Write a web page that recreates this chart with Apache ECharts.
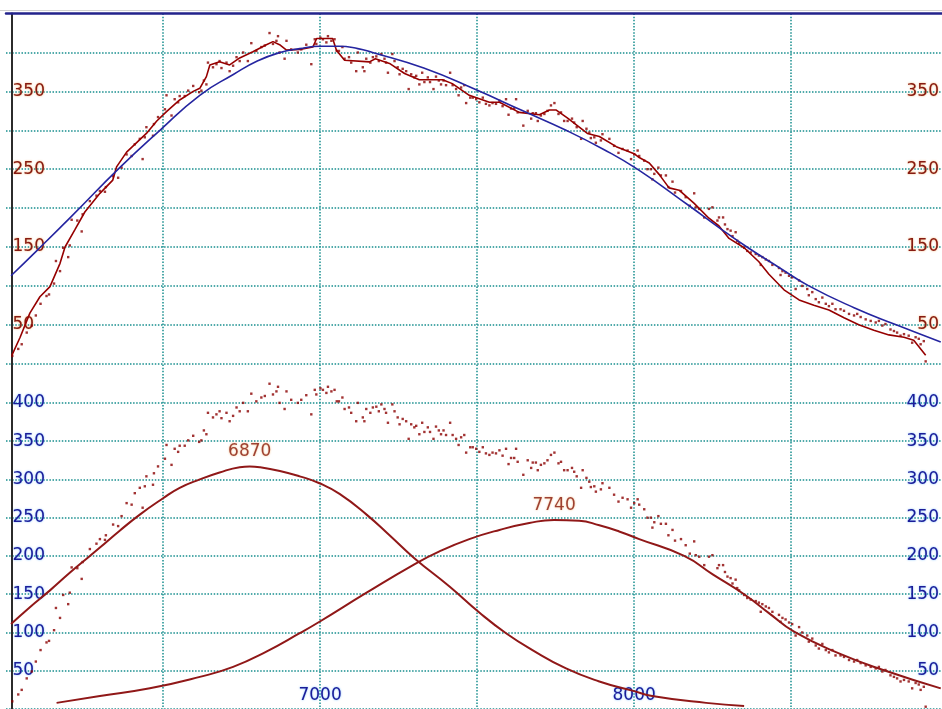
<!DOCTYPE html>
<html><head><meta charset="utf-8">
<script src="https://cdn.jsdelivr.net/npm/echarts@6/dist/echarts.min.js"></script>
<style>html,body{margin:0;padding:0;background:#fff}#c{width:942px;height:709px}</style>
</head><body><div id="c"></div><script>
// ---- data ----
const xMin = 6000, xMax = 8980;
const xLabels = [7000, 8000];
const topYLabels = [50, 150, 250, 350];
const bottomYLabels = [50, 100, 150, 200, 250, 300, 350, 400];

// raw measurement points (dots)
const rawPoints = [[6020,10],[6039,19],[6050,25],[6066,40],[6082,49],[6095,62],[6110,77],[6129,87],[6137,89],[6153,103],[6159,132],[6172,119],[6182,149],[6198,137],[6203,152],[6209,185],[6227,184],[6241,170],[6244,192],[6267,209],[6288,216],[6299,222],[6315,221],[6318,227],[6341,241],[6357,239],[6368,252],[6384,269],[6400,267],[6410,282],[6426,289],[6435,263],[6442,291],[6447,304],[6468,293],[6471,308],[6484,317],[6506,327],[6511,345],[6527,319],[6537,340],[6548,336],[6553,344],[6569,344],[6580,351],[6596,357],[6615,349],[6622,351],[6630,364],[6638,359],[6643,387],[6659,381],[6670,385],[6680,389],[6686,380],[6702,387],[6712,376],[6723,383],[6734,394],[6744,389],[6755,400],[6770,389],[6781,412],[6797,402],[6813,407],[6824,409],[6839,425],[6850,411],[6861,415],[6866,421],[6871,400],[6887,392],[6893,415],[6908,404],[6929,400],[6940,404],[6956,410],[6972,385],[6983,417],[6988,411],[7001,419],[7009,417],[7020,413],[7025,421],[7036,415],[7046,417],[7053,402],[7060,402],[7071,407],[7078,392],[7092,394],[7099,387],[7115,376],[7120,400],[7136,381],[7141,376],[7147,392],[7160,387],[7168,394],[7179,395],[7187,389],[7195,398],[7205,392],[7210,387],[7216,374],[7230,398],[7237,389],[7247,381],[7253,372],[7263,379],[7274,376],[7282,353],[7290,372],[7300,368],[7306,370],[7316,359],[7325,374],[7332,362],[7343,368],[7350,362],[7361,353],[7369,369],[7378,364],[7385,359],[7393,364],[7401,358],[7414,374],[7422,358],[7433,353],[7441,345],[7449,355],[7459,358],[7465,335],[7478,342],[7486,342],[7497,340],[7507,336],[7518,342],[7528,334],[7539,332],[7549,335],[7560,334],[7571,338],[7581,331],[7592,340],[7600,320],[7608,328],[7618,328],[7624,340],[7629,323],[7647,306],[7661,325],[7672,315],[7677,322],[7687,322],[7693,312],[7703,319],[7714,321],[7724,325],[7735,332],[7746,335],[7759,321],[7767,323],[7777,312],[7788,312],[7802,315],[7809,310],[7817,304],[7831,289],[7836,312],[7848,302],[7857,297],[7862,290],[7873,291],[7878,284],[7894,287],[7899,295],[7921,289],[7936,280],[7950,271],[7963,276],[7979,274],[7990,263],[8000,269],[8011,274],[8016,267],[8032,261],[8042,250],[8053,250],[8058,237],[8064,244],[8077,252],[8085,242],[8101,242],[8109,227],[8122,234],[8130,220],[8149,222],[8164,214],[8177,203],[8191,219],[8196,201],[8207,199],[8223,188],[8238,199],[8249,201],[8265,184],[8270,188],[8283,188],[8289,179],[8297,173],[8307,171],[8313,164],[8323,169],[8328,158],[8334,155],[8350,149],[8360,145],[8371,143],[8387,141],[8397,139],[8403,127],[8408,137],[8419,134],[8429,132],[8440,127],[8461,123],[8466,114],[8472,119],[8482,117],[8493,113],[8503,111],[8514,96],[8525,107],[8535,100],[8551,96],[8556,88],[8567,92],[8578,83],[8588,79],[8599,85],[8610,77],[8620,74],[8631,77],[8641,70],[8657,70],[8668,68],[8684,64],[8700,62],[8710,64],[8721,60],[8737,57],[8753,55],[8769,53],[8779,55],[8790,49],[8800,51],[8816,44],[8827,42],[8837,40],[8848,36],[8859,38],[8874,36],[8885,27],[8896,34],[8906,32],[8912,25],[8922,29],[8928,3]];

// running data line in the upper panel
const dataLine = [[6019,11],[6045,34],[6076,65],[6108,86],[6140,99],[6172,129],[6188,150],[6219,172],[6251,195],[6299,219],[6340,236],[6352,253],[6384,272],[6447,296],[6480,312],[6511,324],[6553,339],[6596,350],[6617,354],[6638,369],[6649,384],[6680,388],[6712,384],[6744,393],[6786,401],[6829,410],[6850,414],[6871,410],[6893,403],[6935,404],[6977,407],[6989,418],[7040,418],[7052,403],[7078,390],[7157,388],[7176,392],[7221,386],[7269,373],[7316,365],[7390,365],[7421,360],[7475,345],[7539,336],[7571,336],[7634,323],[7698,320],[7730,326],[7752,326],[7787,316],[7851,296],[7889,292],[7943,279],[8000,270],[8016,265],[8048,258],[8080,243],[8111,226],[8143,223],[8191,206],[8238,187],[8270,177],[8302,161],[8350,149],[8397,131],[8429,115],[8477,95],[8525,82],[8572,75],[8620,69],[8668,59],[8715,50],[8763,43],[8811,37],[8859,34],[8890,30],[8928,11]];

// fitted curve (upper panel)
const fitLine = [[6016,113],[6100,146],[6210,190],[6362,252],[6490,300],[6617,345],[6725,372],[6800,389],[6872,400],[6935,405],[7000,408],[7060,408],[7120,405],[7167,400],[7330,380],[7497,352],[7640,326],[7783,300],[7900,276],[8010,250],[8175,203],[8270,175],[8359,150],[8460,124],[8556,100],[8700,72],[8834,50],[8976,28]];

// component curves (lower panel)
const gauss1 = [[6016,111],[6076,133],[6140,155],[6203,178],[6267,200],[6299,211],[6362,233],[6426,254],[6499,275],[6553,289],[6617,300],[6680,309],[6744,316],[6776,317],[6808,316],[6872,311],[6935,304],[6998,295],[7062,281],[7148,254],[7221,227],[7300,197],[7412,160],[7507,126],[7592,99],[7676,77],[7783,53],[7889,36],[7994,24],[8057,17],[8229,8],[8350,4]];
const gauss2 = [[6161,8],[6299,17],[6458,27],[6617,42],[6723,55],[6829,75],[6935,99],[6998,114],[7148,152],[7300,189],[7380,206],[7475,222],[7571,234],[7666,243],[7745,247],[7825,246],[7889,240],[7952,232],[8016,222],[8159,200],[8250,176],[8350,150],[8430,125],[8509,101],[8650,73],[8800,50],[8976,27]];
const peakLabels = [[6776, 317, '6870'], [7745, 247, '7740']];

// ---- chart ----
const FONT = 'DejaVu Sans';
const redText = {color:'#861a12', fontFamily:FONT, fontSize:17, textShadowColor:'rgba(240,140,40,0.7)', textShadowBlur:2};
const blueText = {color:'#1c1c98', fontFamily:FONT, fontSize:17, textShadowColor:'rgba(60,160,255,0.7)', textShadowBlur:2};
const gridDots = {color:'#178e8e', width:1.5, type:[1.5,1.6]};
const chart = echarts.init(document.getElementById('c'));
const yBase = {type:'value', min:0, max:450, interval:50, axisTick:{show:false}};
chart.setOption({
  animation:false,
  backgroundColor:'#fff',
  graphic:[{type:'line', shape:{x1:0,y1:10.5,x2:942,y2:10.5}, style:{stroke:'#cfcfcf', lineWidth:1}, silent:true}],
  grid:[{left:6, top:13.6, width:937.2, height:350.1},{left:6, top:364.6, width:937.2, height:350}],
  xAxis:[
    {gridIndex:0, type:'value', min:xMin, max:xMax, interval:500, position:'top',
     axisLine:{show:true, onZero:false, lineStyle:{color:'#23238c', width:2.5}},
     axisTick:{show:false}, axisLabel:{show:false},
     splitLine:{show:true, showMinLine:false, showMaxLine:false, lineStyle:gridDots}},
    {gridIndex:1, type:'value', min:xMin, max:xMax, interval:500, position:'bottom',
     axisLine:{show:false, onZero:false}, axisTick:{show:false},
     axisLabel:Object.assign({inside:true, margin:5, showMinLabel:false, showMaxLabel:false,
       formatter:v => xLabels.includes(v) ? String(v) : ''}, blueText),
     splitLine:{show:true, showMinLine:false, showMaxLine:false, lineStyle:gridDots}}
  ],
  yAxis:[
    Object.assign({}, yBase, {gridIndex:0, position:'left', offset:-5.5,
      axisLine:{show:true, onZero:false, lineStyle:{color:'#2b2b2b', width:2}},
      axisLabel:Object.assign({inside:true, margin:1, formatter:v => topYLabels.includes(v) ? String(v) : ''}, redText),
      splitLine:{show:true, showMaxLine:false, lineStyle:gridDots}}),
    Object.assign({}, yBase, {gridIndex:0, position:'right',
      axisLine:{show:false, onZero:false},
      axisLabel:Object.assign({inside:true, margin:3, formatter:v => topYLabels.includes(v) ? String(v) : ''}, redText),
      splitLine:{show:false}}),
    Object.assign({}, yBase, {gridIndex:1, position:'left', offset:-5.5,
      axisLine:{show:true, onZero:false, lineStyle:{color:'#2b2b2b', width:2}},
      axisLabel:Object.assign({inside:true, margin:1, formatter:v => bottomYLabels.includes(v) ? String(v) : ''}, blueText),
      splitLine:{show:true, showMaxLine:false, lineStyle:gridDots}}),
    Object.assign({}, yBase, {gridIndex:1, position:'right',
      axisLine:{show:false, onZero:false},
      axisLabel:Object.assign({inside:true, margin:3, formatter:v => bottomYLabels.includes(v) ? String(v) : ''}, blueText),
      splitLine:{show:false}})
  ],
  series:[
    {type:'scatter', xAxisIndex:0, yAxisIndex:0, data:rawPoints, symbol:'rect', symbolSize:2.4, itemStyle:{color:'#8b0000'}, silent:true, z:3},
    {type:'line', xAxisIndex:0, yAxisIndex:0, data:dataLine, showSymbol:false, lineStyle:{color:'#960000', width:1.6}, silent:true, z:4},
    {type:'line', xAxisIndex:0, yAxisIndex:0, data:fitLine, smooth:true, showSymbol:false, lineStyle:{color:'#2525a0', width:1.6}, silent:true, z:5},
    {type:'scatter', xAxisIndex:1, yAxisIndex:2, data:rawPoints, symbol:'rect', symbolSize:2.4, itemStyle:{color:'#8b0000'}, silent:true, z:3},
    {type:'line', xAxisIndex:1, yAxisIndex:2, data:gauss1, smooth:true, showSymbol:false, lineStyle:{color:'#901818', width:2}, silent:true, z:4},
    {type:'line', xAxisIndex:1, yAxisIndex:2, data:gauss2, smooth:true, showSymbol:false, lineStyle:{color:'#901818', width:2}, silent:true, z:4},
    {type:'scatter', xAxisIndex:1, yAxisIndex:2, data:peakLabels, symbolSize:0.1, itemStyle:{color:'rgba(0,0,0,0)'}, silent:true, z:6,
     label:Object.assign({show:true, position:'top', distance:6, formatter:p => p.value[2]}, redText)}
  ]
});
</script></body></html>
